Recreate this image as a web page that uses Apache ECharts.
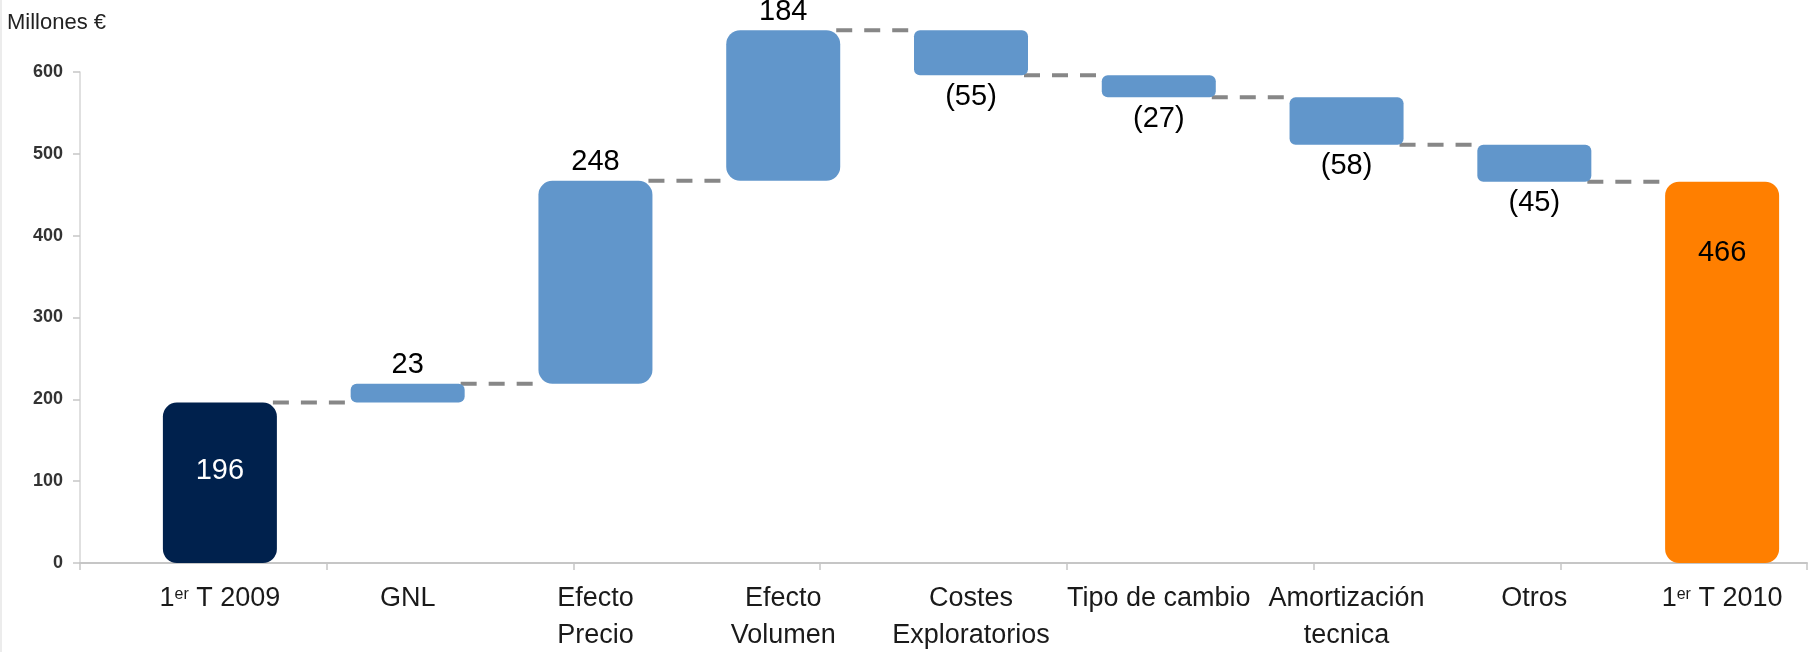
<!DOCTYPE html>
<html>
<head>
<meta charset="utf-8">
<script src="https://cdn.jsdelivr.net/npm/echarts@6/dist/echarts.min.js"></script>
<style>
  html, body { margin: 0; padding: 0; background: #ffffff; }
  #chart { width: 1816px; height: 652px; box-shadow: inset 2px 0 0 #ececec; }
</style>
</head>
<body>
<div id="chart"></div>
<script>
// Resultado: puente 1er T 2009 -> 1er T 2010 (Millones €)
const categories = ['1er T 2009', 'GNL', 'Efecto\nPrecio', 'Efecto\nVolumen', 'Costes\nExploratorios',
                    'Tipo de cambio', 'Amortización\ntecnica', 'Otros', '1er T 2010'];
// first and last entries are totals, the rest are changes
const changes = [196, 23, 248, 184, -55, -27, -58, -45, 466];
const isTotal = [true, false, false, false, false, false, false, false, true];
const yTicks = { min: 0, max: 600, step: 100 };

const FONT = '"Liberation Sans", Arial, sans-serif';
const BAR_W = 114;
const PX_PER_UNIT = 491 / 600;
const BLUE = '#6196cb';
const totalColors = { first: '#00214d', last: '#ff7f00' };

// running totals: base of each floating bar and level after each step
const bases = [];
const levels = [];
let run = 0;
changes.forEach((v, i) => {
  if (isTotal[i]) {
    bases.push(0);
    run = v;
  } else {
    bases.push(v >= 0 ? run : run + v);
    run += v;
  }
  levels.push(run);
});

const barData = changes.map((v, i) => {
  const h = Math.abs(v) * PX_PER_UNIT;
  const radius = isTotal[i] ? 14 : (h >= 100 ? 14 : 6);
  const color = isTotal[i] ? (i === 0 ? totalColors.first : totalColors.last) : BLUE;
  let label;
  if (isTotal[i]) {
    label = i === 0
      ? { position: 'inside', offset: [0, -12], color: '#ffffff' }
      : { position: 'insideTop', distance: 57, color: '#000000' };
  } else if (v >= 0) {
    label = { position: 'top', distance: 4, color: '#000000' };
  } else {
    label = { position: 'bottom', distance: 7, color: '#000000' };
  }
  return {
    value: Math.abs(v),
    itemStyle: { color: color, borderRadius: radius },
    label: label
  };
});

const connectors = levels.slice(0, levels.length - 1).map((v, i) => [i, v]);

const chart = echarts.init(document.getElementById('chart'), null, { renderer: 'canvas' });

chart.setOption({
  animation: false,
  textStyle: { fontFamily: FONT },
  title: {
    text: 'Millones €',
    left: 2,
    top: 7,
    textStyle: { fontFamily: FONT, fontSize: 22, fontWeight: 'normal', color: '#222222' }
  },
  grid: [
    { left: 80, right: 9, top: 72, bottom: 89, outerBoundsMode: 'none', containLabel: false },
    { left: 126, right: 0, top: 72, bottom: 89, outerBoundsMode: 'none', containLabel: false }
  ],
  xAxis: [
    {
      gridIndex: 0,
      type: 'value',
      min: 0, max: 7, interval: 1,
      axisLine: { show: true, lineStyle: { color: '#c6c6c6', width: 2 } },
      axisTick: { show: true, length: 7, lineStyle: { color: '#c6c6c6', width: 1.5 } },
      axisLabel: { show: false },
      splitLine: { show: false }
    },
    {
      gridIndex: 1,
      type: 'category',
      data: categories,
      axisLine: { show: false },
      axisTick: { show: false },
      axisLabel: {
        interval: 0,
        margin: 17,
        fontFamily: FONT,
        fontSize: 27,
        lineHeight: 37,
        color: '#1a1a1a',
        formatter: function (name) {
          const m = name.match(/^(\d)er (.*)$/);
          if (m) return '{n|' + m[1] + '}{s|er}{n| ' + m[2] + '}';
          return name;
        },
        rich: {
          n: { fontFamily: FONT, fontSize: 27, lineHeight: 37, color: '#1a1a1a' },
          s: { fontFamily: FONT, fontSize: 16, padding: [0, 0, 8, 0], color: '#1a1a1a' }
        }
      }
    }
  ],
  yAxis: [
    {
      gridIndex: 0,
      type: 'value',
      min: yTicks.min, max: yTicks.max, interval: yTicks.step,
      axisLine: { show: true, lineStyle: { color: '#d6d6d6', width: 1.5 } },
      axisTick: { show: true, length: 7, lineStyle: { color: '#c6c6c6', width: 1.5 } },
      axisLabel: {
        margin: 17,
        fontFamily: FONT,
        fontWeight: 'bold',
        fontSize: 18,
        color: '#333333'
      },
      splitLine: { show: false }
    },
    {
      gridIndex: 1,
      type: 'value',
      min: yTicks.min, max: yTicks.max, interval: yTicks.step,
      show: false
    }
  ],
  series: [
    {
      name: 'connectors',
      type: 'custom',
      xAxisIndex: 1,
      yAxisIndex: 1,
      z: 1,
      silent: true,
      data: connectors,
      renderItem: function (params, api) {
        const i = api.value(0);
        const lvl = api.value(1);
        const p0 = api.coord([i, lvl]);
        const p1 = api.coord([i + 1, lvl]);
        const half = BAR_W / 2;
        return {
          type: 'line',
          shape: { x1: p0[0] + half - 4, y1: p0[1], x2: p1[0] - half + 4, y2: p1[1] },
          style: { stroke: '#878787', lineWidth: 4, lineDash: [16, 12] }
        };
      }
    },
    {
      name: 'base',
      type: 'bar',
      xAxisIndex: 1,
      yAxisIndex: 1,
      stack: 'bridge',
      barWidth: BAR_W,
      clip: false,
      silent: true,
      itemStyle: { color: 'transparent' },
      data: bases
    },
    {
      name: 'step',
      type: 'bar',
      xAxisIndex: 1,
      yAxisIndex: 1,
      stack: 'bridge',
      barWidth: BAR_W,
      clip: false,
      z: 3,
      label: {
        show: true,
        fontFamily: FONT,
        fontSize: 29,
        formatter: function (p) {
          const v = changes[p.dataIndex];
          return v < 0 ? '(' + Math.abs(v) + ')' : String(v);
        }
      },
      data: barData
    }
  ]
});
</script>
</body>
</html>
